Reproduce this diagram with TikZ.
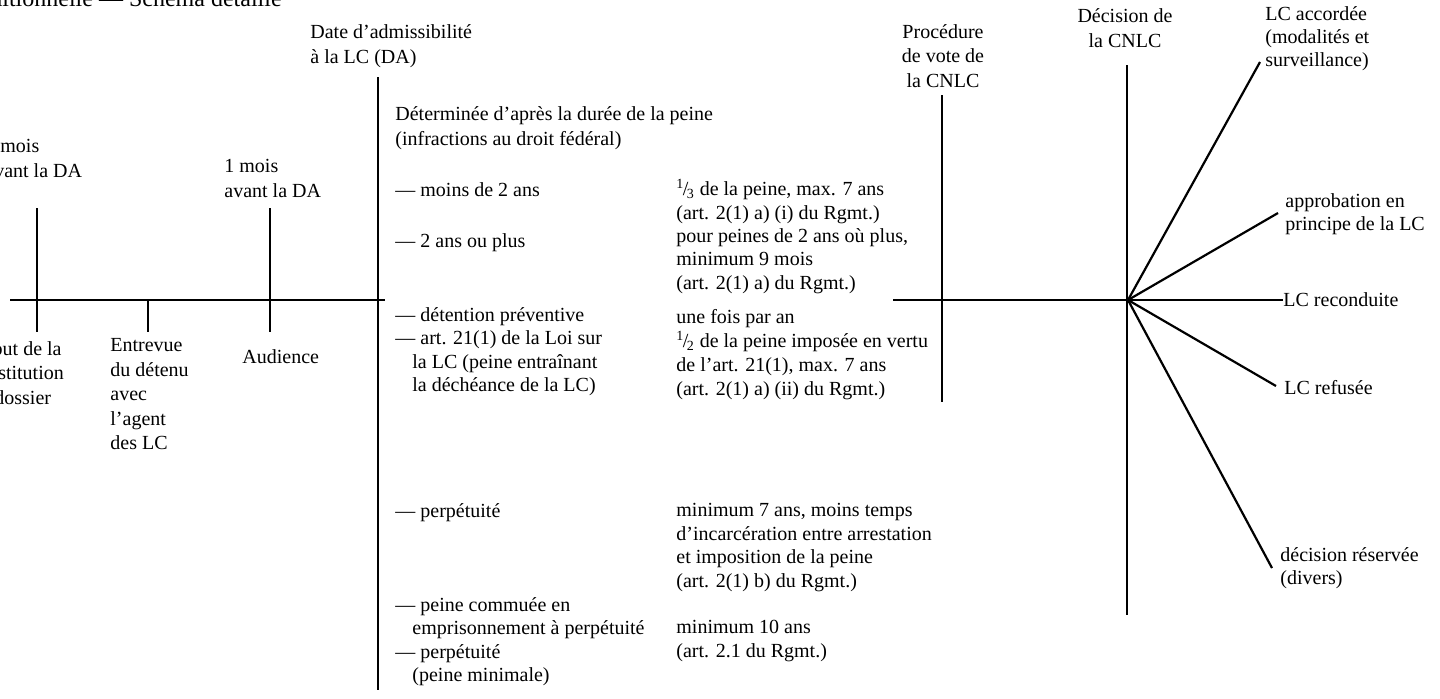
\documentclass[tikz,border=0pt]{standalone}
\usepackage{fontspec}
\setmainfont{Liberation Serif}
\usepackage{tikz}

\newcommand{\fracrgmt}[2]{\textsuperscript{#1}\kern-.08em/\kern-.08em\textsubscript{#2}}
\newcommand{\interligne}[1]{\fontsize{10}{#1}\selectfont}

\begin{document}
\begin{tikzpicture}[x=0.5pt,y=-0.5pt,
		every node/.style={inner sep=0pt, align=left, anchor=north west, font=\interligne{11.75pt}},
		trait/.style={line width=1.1pt}]
	\useasboundingbox (0,0) rectangle (1440,698);

	% titre (coupe en haut)
	\node[anchor=base east, font=\fontsize{12}{14}\selectfont] (titre) at (282,6) {Libération conditionnelle — Schéma détaillé};

	% axe du temps
	\draw[trait] (10,300) -- (385,300);
	\draw[trait] (893,300) -- (1128,300);
	\coordinate (pivot) at (1128,300);

	\foreach \x/\haut in {37/208,148/300,270/208}
		\draw[trait] (\x,\haut) -- (\x,332);
	\draw[trait] (378,77) -- (378,690);
	\draw[trait] (942,95) -- (942,402);
	\draw[trait] (1127,65) -- (1127,615);

	% etapes avant la DA
	\node[font=\interligne{12.5pt}] (deuxmois) at (-15,139) {2 mois\\avant la DA};
	\node[font=\interligne{12.5pt}] (unmois) at (224,159) {1 mois\\avant la DA};
	\node[font=\interligne{12.25pt}] (debut) at (-31,341) {Début de la\\constitution\\du dossier};
	\node[font=\interligne{12.25pt}] (entrevue) at (110,338) {Entrevue\\du détenu\\avec\\l'agent\\des LC};
	\node (audience) at (242,349) {Audience};

	\node[font=\interligne{12.5pt}] (da) at (310,24) {Date d'admissibilité\\à la LC (DA)};

	% premiere colonne
	\node[font=\interligne{12.5pt}] (duree) at (395,106) {Déterminée d'après la durée de la peine\\(infractions au droit fédéral)};
	\node (moins) at (395,182) {— moins de 2 ans};
	\node (plus) at (395,233) {— 2 ans ou plus};
	\node (prev) at (395,307) {— détention préventive\\— art. 21(1) de la Loi sur\\\hspace*{.85em}la LC (peine entraînant\\\hspace*{.85em}la déchéance de la LC)};
	\node (perp) at (395,503) {— perpétuité};
	\node (commue) at (395,597) {— peine commuée en\\\hspace*{.85em}emprisonnement à perpétuité\\— perpétuité\\\hspace*{.85em}(peine minimale)};

	% deuxieme colonne
	\node[font=\interligne{11.65pt}] (tiers) at (676,179) {\fracrgmt{1}{3} de la peine, max. 7 ans\\(art. 2(1) a) (i) du Rgmt.)\\pour peines de 2 ans où plus,\\minimum 9 mois\\(art. 2(1) a) du Rgmt.)};
	\node[font=\interligne{12pt}] (demi) at (676,309) {une fois par an\\\fracrgmt{1}{2} de la peine imposée en vertu\\de l'art. 21(1), max. 7 ans\\(art. 2(1) a) (ii) du Rgmt.)};
	\node (sept) at (676,503) {minimum 7 ans, moins temps\\d'incarcération entre arrestation\\et imposition de la peine\\(art. 2(1) b) du Rgmt.)};
	\node (dix) at (676,620) {minimum 10 ans\\(art. 2.1 du Rgmt.)};

	% CNLC
	\node[anchor=north, align=center, font=\interligne{12.25pt}] (vote) at (943,24) {Procédure\\de vote de\\la CNLC};
	\node[anchor=north, align=center, font=\interligne{12.5pt}] (decision) at (1125,8) {Décision de\\la CNLC};

	% issues de la decision
	\node[font=\interligne{11.5pt}] (accordee) at (1265,6) {LC accordée\\(modalités et\\surveillance)};
	\node[font=\interligne{11.5pt}] (approb) at (1285,193) {approbation en\\principe de la LC};
	\node[anchor=west] (reconduite) at (1283,300) {LC reconduite};
	\node[anchor=west] (refusee) at (1284,388) {LC refusée};
	\node[font=\interligne{11.5pt}] (reservee) at (1280,547) {décision réservée\\(divers)};

	\coordinate (finaccordee) at (1260,62);
	\coordinate (finapprob) at (1278,213);
	\coordinate (finrefusee) at (1276,386);
	\coordinate (finreservee) at (1272,568);

	\draw[trait] (pivot) -- (finaccordee);
	\draw[trait] (pivot) -- (finapprob);
	\draw[trait] (pivot) -- (reconduite.west);
	\draw[trait] (pivot) -- (finrefusee);
	\draw[trait] (pivot) -- (finreservee);
\end{tikzpicture}
\end{document}
